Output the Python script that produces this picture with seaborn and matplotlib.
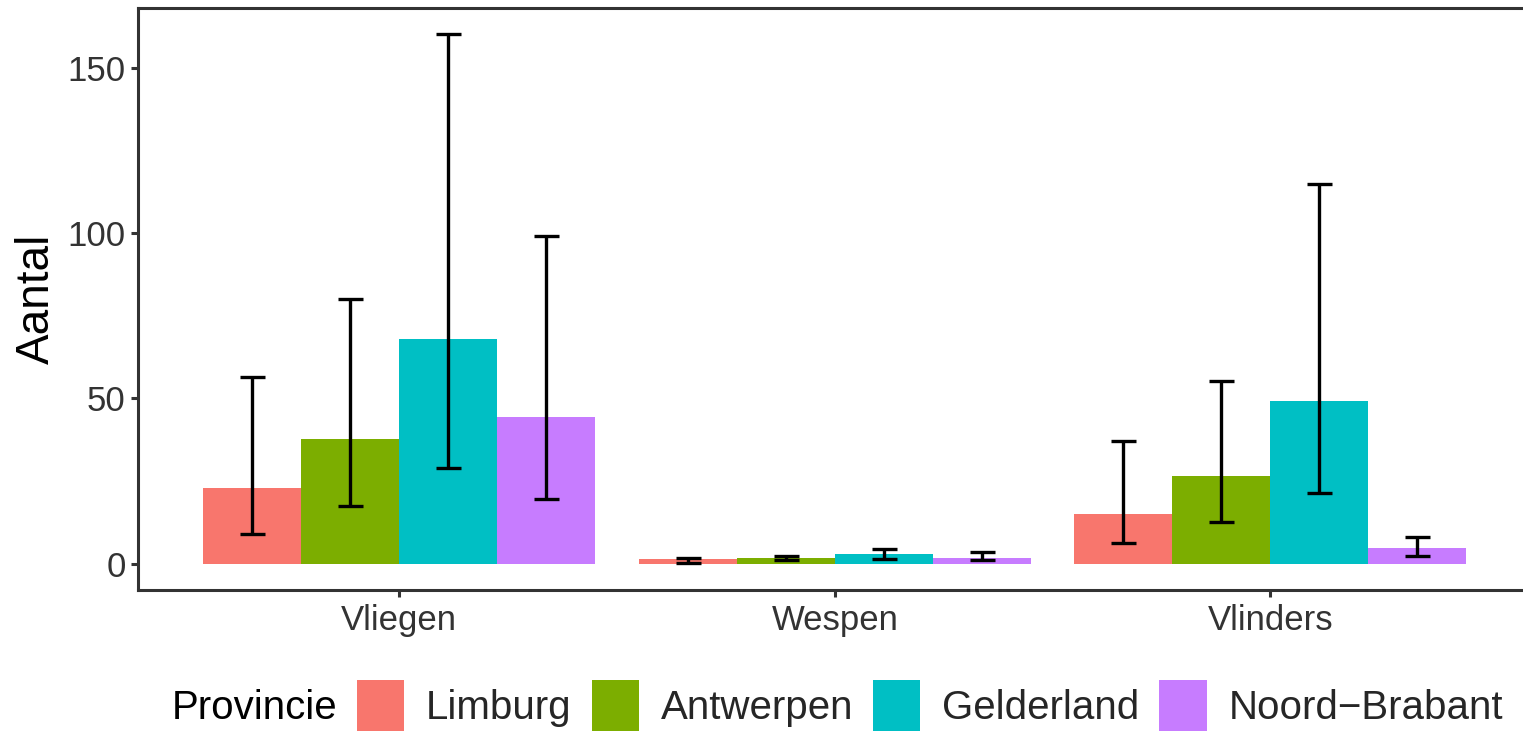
import numpy as np
import pandas as pd
import matplotlib
matplotlib.use("Agg")
import matplotlib.pyplot as plt
import seaborn as sns
from matplotlib.patches import Patch

# ---- data ----
categories = ["Vliegen", "Wespen", "Vlinders"]
provinces = ["Limburg", "Antwerpen", "Gelderland", "Noord-Brabant"]
legend_labels = ["Limburg", "Antwerpen", "Gelderland", "Noord\u2212Brabant"]

limburg_mean = [22.7, 1.5, 15.0]
limburg_low = [9.0, 0.3, 6.2]
limburg_high = [56.4, 1.6, 37.2]

antwerpen_mean = [37.8, 1.6, 26.4]
antwerpen_low = [17.5, 1.2, 12.7]
antwerpen_high = [79.9, 2.4, 55.1]

gelderland_mean = [68.0, 3.0, 49.1]
gelderland_low = [28.9, 1.3, 21.2]
gelderland_high = [160.0, 4.3, 114.7]

brabant_mean = [44.4, 1.6, 4.7]
brabant_low = [19.6, 1.1, 2.4]
brabant_high = [99.2, 3.6, 7.9]

colors = ["#F8766D", "#7CAE00", "#00BFC4", "#C77CFF"]
yticks = [0, 50, 100, 150]

means = [limburg_mean, antwerpen_mean, gelderland_mean, brabant_mean]
lows = [limburg_low, antwerpen_low, gelderland_low, brabant_low]
highs = [limburg_high, antwerpen_high, gelderland_high, brabant_high]

rows = []
for p, m, lo, hi in zip(provinces, means, lows, highs):
    for c, mv, lv, hv in zip(categories, m, lo, hi):
        rows.append({"Insect": c, "Provincie": p, "Aantal": mv, "low": lv, "high": hv})
df = pd.DataFrame(rows)

# ---- plot ----
sns.set_theme(style="white")
plt.rcParams["font.family"] = ["Liberation Sans", "DejaVu Sans"]

fig = plt.figure(figsize=(15.23, 7.31), dpi=100)
# panel extends slightly past the right edge of the canvas (as in the reference)
ax = fig.add_axes([138 / 1523, 1 - 590 / 731, 1393.6 / 1523, (590 - 8) / 731])

sns.barplot(data=df, x="Insect", y="Aantal", hue="Provincie", order=categories,
            hue_order=provinces, palette=colors, width=0.9, gap=0,
            errorbar=None, linewidth=0, saturation=1, ax=ax, legend=False)

for cont, p in zip(ax.containers, provinces):
    sub = df[df["Provincie"] == p].set_index("Insect").loc[categories]
    xs = [b.get_x() + b.get_width() / 2 for b in cont]
    m = sub["Aantal"].values
    lo_err = np.clip(m - sub["low"].values, 0, None)
    hi_err = np.clip(sub["high"].values - m, 0, None)
    ax.errorbar(xs, m, yerr=[lo_err, hi_err],
                fmt="none", ecolor="black", elinewidth=2.4, capsize=9,
                capthick=2.4, zorder=5)

ax.set_xlim(-0.6, 2.6)
ax.set_ylim(-8, 168)
ax.set_yticks(yticks)
ax.set_yticklabels([str(v) for v in yticks])
ax.set_xlabel("")
ax.set_ylabel("Aantal", fontsize=33, color="black", labelpad=6)

for s in ax.spines.values():
    s.set_visible(True)
    s.set_color("#333333")
    s.set_linewidth(2.2)

ax.tick_params(axis="both", which="major", length=5, width=2.2, color="#333333",
               labelsize=25, labelcolor="#333333", left=True, bottom=True)
ax.tick_params(axis="y", pad=4)
ax.tick_params(axis="x", pad=5)
ax.grid(False)

# legend
fig.text(172 / 1523, 1 - 708 / 731, "Provincie", fontsize=29, color="black",
         ha="left", va="center")
handles = [Patch(facecolor=c, edgecolor="none") for c in colors]
fig.legend(handles, legend_labels, loc="center left",
           bbox_to_anchor=(357 / 1523, 1 - 706 / 731), ncol=4, frameon=False,
           fontsize=29, handlelength=1.17, handleheight=1.6, handletextpad=0.54,
           columnspacing=0.5, borderpad=0, borderaxespad=0)

fig.savefig("out.png", dpi=100)
